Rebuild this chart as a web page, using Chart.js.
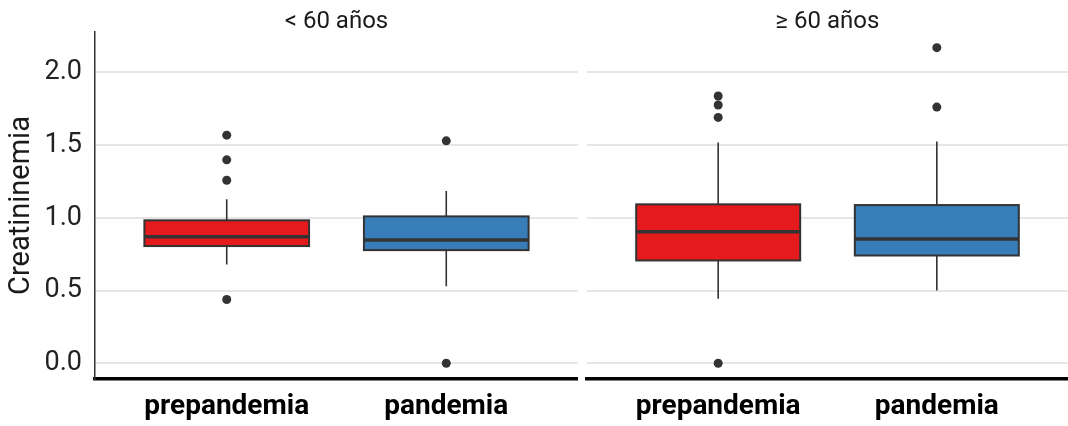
<!DOCTYPE html>
<html>
<head>
<meta charset="utf-8">
<script src="https://cdn.jsdelivr.net/npm/chart.js@4"></script>
<style>
  html, body { margin: 0; padding: 0; background: #fff; }
  .wrap { display: flex; width: 1068px; height: 426px; }
  canvas { display: block; }
</style>
</head>
<body>
<div class="wrap">
  <canvas id="left" width="578" height="426"></canvas>
  <canvas id="right" width="490" height="426"></canvas>
</div>
<script>
const categories = ['prepandemia', 'pandemia'];
const panelTitles = ['< 60 años', '≥ 60 años'];
const yTicks = [0, 0.5, 1.0, 1.5, 2.0];
const boxColors = ['#E41A1C', '#377EB8'];

// < 60 años
const under60Min = [0.68, 0.53];
const under60Q1 = [0.806, 0.778];
const under60Median = [0.870, 0.847];
const under60Q3 = [0.983, 1.010];
const under60Max = [1.128, 1.185];
const under60Outliers = [[1.569, 1.399, 1.259, 0.438], [1.530, 0.0]];

// >= 60 años
const over60Min = [0.443, 0.50];
const over60Q1 = [0.707, 0.741];
const over60Median = [0.905, 0.854];
const over60Q3 = [1.093, 1.088];
const over60Max = [1.519, 1.526];
const over60Outliers = [[1.838, 1.776, 1.691, 0.0], [2.171, 1.762]];

const FONT = 'Roboto';
const ink = '#333333';

const boxPlugin = {
  id: 'boxes',
  beforeDatasetsDraw(chart, args, opts) {
    const { ctx } = chart;
    const x = chart.scales.x, y = chart.scales.y;
    const half = 0.375;
    opts.q1.forEach((_, i) => {
      const cx = x.getPixelForValue(i + 1);
      const l = x.getPixelForValue(i + 1 - half), r = x.getPixelForValue(i + 1 + half);
      const yq1 = y.getPixelForValue(opts.q1[i]), yq3 = y.getPixelForValue(opts.q3[i]);
      ctx.save();
      ctx.strokeStyle = ink;
      ctx.lineWidth = 1.6;
      ctx.beginPath();
      ctx.moveTo(cx, y.getPixelForValue(opts.max[i])); ctx.lineTo(cx, yq3);
      ctx.moveTo(cx, yq1); ctx.lineTo(cx, y.getPixelForValue(opts.min[i]));
      ctx.stroke();
      ctx.fillStyle = boxColors[i];
      ctx.fillRect(l, yq3, r - l, yq1 - yq3);
      ctx.lineWidth = 2;
      ctx.strokeRect(l, yq3, r - l, yq1 - yq3);
      ctx.lineWidth = 3.5;
      ctx.beginPath();
      const ym = y.getPixelForValue(opts.median[i]);
      ctx.moveTo(l, ym); ctx.lineTo(r, ym);
      ctx.stroke();
      ctx.restore();
    });
  }
};

function makeChart(id, title, stats, outliers, isLeft) {
  const points = [];
  outliers.forEach((arr, i) => arr.forEach(v => points.push({ x: i + 1, y: v })));
  return new Chart(document.getElementById(id), {
    type: 'scatter',
    data: {
      datasets: [{
        data: points,
        pointRadius: 4.5,
        pointBackgroundColor: ink,
        pointBorderWidth: 0,
        pointHoverRadius: 4.5
      }]
    },
    plugins: [boxPlugin],
    options: {
      responsive: false,
      animation: false,
      devicePixelRatio: 1,
      layout: { padding: 0, autoPadding: false },
      plugins: {
        legend: { display: false },
        tooltip: { enabled: false },
        title: {
          display: true,
          fullSize: false,
          text: title,
          color: '#1a1a1a',
          font: { family: FONT, size: 24, weight: 'normal', lineHeight: 1.0 },
          padding: { top: 10, bottom: -2 }
        },
        boxes: stats
      },
      scales: {
        x: {
          type: 'linear',
          min: 0.4,
          max: 2.6,
          afterBuildTicks: (s) => { s.ticks = categories.map((c, i) => ({ value: i + 1 })); },
          afterFit: (s) => { s.height = 47; },
          grid: { display: false, drawTicks: false },
          border: { display: true, color: '#000000', width: 3.5 },
          ticks: {
            padding: 11,
            color: '#000000',
            font: { family: FONT, size: 28, weight: 'bold' },
            callback: (v) => categories[v - 1]
          }
        },
        y: {
          min: -0.1085,
          max: 2.2785,
          afterBuildTicks: (s) => { s.ticks = yTicks.map(v => ({ value: v })); },
          afterFit: (s) => { s.width = isLeft ? 95 : 9; },
          grid: { color: '#e6e6e6', lineWidth: 2, drawTicks: false },
          border: { display: isLeft, color: ink, width: 1.5 },
          ticks: {
            display: isLeft,
            padding: 13,
            color: '#222222',
            font: { family: FONT, size: 27 },
            callback: (v) => v.toFixed(1)
          },
          title: {
            display: isLeft,
            text: 'Creatininemia',
            color: '#1a1a1a',
            font: { family: FONT, size: 29 },
            padding: { top: 4, bottom: 0 }
          }
        }
      }
    }
  });
}

makeChart('left', panelTitles[0],
  { min: under60Min, q1: under60Q1, median: under60Median, q3: under60Q3, max: under60Max },
  under60Outliers, true);
makeChart('right', panelTitles[1],
  { min: over60Min, q1: over60Q1, median: over60Median, q3: over60Q3, max: over60Max },
  over60Outliers, false);
</script>
</body>
</html>
